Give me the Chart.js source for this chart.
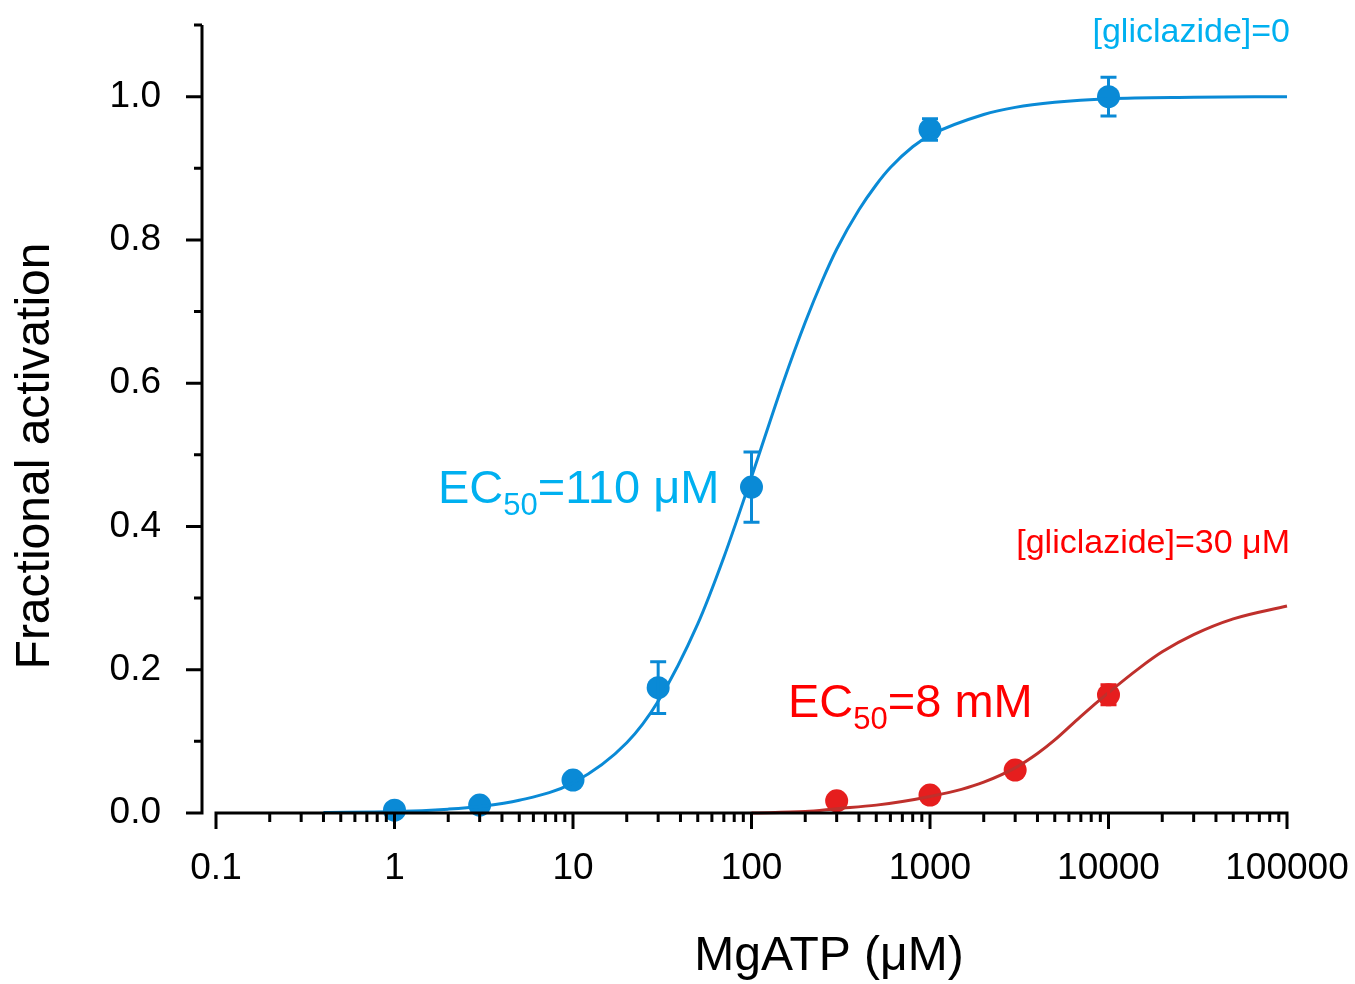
<!DOCTYPE html>
<html lang="en">

<head>
    <meta charset="UTF-8">
    <title>MgATP activation curves</title>
    <script src="https://cdn.jsdelivr.net/npm/chart.js@4.4.0/dist/chart.umd.min.js"></script>
    <style>
        body { margin: 0; background: #fff; }
        canvas { display: block; }
    </style>
</head>

<body>

    <canvas id="chart" width="1355" height="984"></canvas>

    <script>
        // MgATP concentrations (uM) and mean fractional activation +/- SEM
        const controlDose = [1, 3, 10, 30, 100, 1000, 10000];
        const controlResp = [0.004, 0.011, 0.046, 0.175, 0.455, 0.954, 1.0];
        const controlErr = [0, 0, 0, 0.036, 0.049, 0.015, 0.027];

        const glicDose = [300, 1000, 3000, 10000];
        const glicResp = [0.017, 0.025, 0.060, 0.165];
        const glicErr = [0, 0, 0, 0.014];

        // fitted curves
        const controlFitDose = [0.4, 1, 2, 3, 5, 10, 20, 30, 50, 70, 100, 150, 200, 250, 300, 400, 500, 600, 800, 1000, 2000, 3000, 5000, 10000, 30000, 100000];
        const controlFitResp = [0.0008, 0.002, 0.0054, 0.009, 0.0177, 0.042, 0.098, 0.156, 0.264, 0.357, 0.469, 0.60, 0.685, 0.744, 0.787, 0.842, 0.877, 0.901, 0.930, 0.946, 0.975, 0.985, 0.992, 0.997, 0.999, 1.0];

        const glicFitDose = [100, 200, 300, 500, 700, 1000, 1500, 2000, 3000, 4000, 5000, 7000, 10000, 15000, 20000, 30000, 50000, 100000];
        const glicFitResp = [0.0, 0.002, 0.006, 0.011, 0.016, 0.023, 0.033, 0.043, 0.063, 0.083, 0.102, 0.135, 0.168, 0.203, 0.225, 0.249, 0.271, 0.289];

        // axis ticks
        const xTicks = [0.1, 1, 10, 100, 1000, 10000, 100000];
        const xTickLabels = ['0.1', '1', '10', '100', '1000', '10000', '100000'];
        const yTicks = [0, 0.2, 0.4, 0.6, 0.8, 1.0];
        const yTickLabels = ['0.0', '0.2', '0.4', '0.6', '0.8', '1.0'];

        const BLUE = '#0a8ad6';
        const RED = '#e61e1e';
        const RED_LINE = '#bf302c';
        const FONT = "'Liberation Sans', Arial, sans-serif";

        // plot box edges (pixels)
        const AREA = { left: 216, top: 25, right: 1287, bottom: 813 };

        Chart.defaults.font.family = FONT;

        function toPoints(xs, ys) {
            return xs.map((x, i) => ({ x: x, y: ys[i] }));
        }

        // error bars for the scatter datasets
        const errorBars = {
            id: 'errorBars',
            afterDatasetsDraw(chart) {
                const ctx = chart.ctx;
                const xs = chart.scales.x;
                const ys = chart.scales.y;
                const sets = [
                    { dose: controlDose, resp: controlResp, err: controlErr, color: BLUE },
                    { dose: glicDose, resp: glicResp, err: glicErr, color: RED }
                ];
                ctx.save();
                ctx.lineWidth = 3;
                sets.forEach(s => {
                    ctx.strokeStyle = s.color;
                    s.dose.forEach((d, i) => {
                        if (!s.err[i]) return;
                        const px = xs.getPixelForValue(d);
                        const top = ys.getPixelForValue(s.resp[i] + s.err[i]);
                        const bot = ys.getPixelForValue(s.resp[i] - s.err[i]);
                        ctx.beginPath();
                        ctx.moveTo(px, top);
                        ctx.lineTo(px, bot);
                        ctx.moveTo(px - 8, top);
                        ctx.lineTo(px + 8, top);
                        ctx.moveTo(px - 8, bot);
                        ctx.lineTo(px + 8, bot);
                        ctx.stroke();
                    });
                });
                ctx.restore();
            }
        };

        // detached axes with outward tick marks
        const axes = {
            id: 'axes',
            afterDatasetsDraw(chart) {
                const ctx = chart.ctx;
                const xs = chart.scales.x;
                const ys = chart.scales.y;
                const y0 = ys.getPixelForValue(0);
                const yAxisX = xs.left - 14;
                ctx.save();
                ctx.strokeStyle = '#000';
                ctx.lineWidth = 3;
                ctx.beginPath();
                // y axis
                ctx.moveTo(yAxisX, y0 + 1.5);
                ctx.lineTo(yAxisX, ys.getPixelForValue(1.1));
                for (let k = 0; k <= 11; k++) {
                    const py = ys.getPixelForValue(k / 10);
                    ctx.moveTo(yAxisX, py);
                    ctx.lineTo(yAxisX - (k % 2 === 0 ? 16 : 8), py);
                }
                // x axis
                ctx.moveTo(xs.getPixelForValue(0.1) - 1.5, y0);
                ctx.lineTo(xs.getPixelForValue(100000) + 1.5, y0);
                for (let d = -1; d <= 5; d++) {
                    const base = Math.pow(10, d);
                    const px = xs.getPixelForValue(base);
                    ctx.moveTo(px, y0);
                    ctx.lineTo(px, y0 + 16);
                    if (d === 5) continue;
                    for (let m = 2; m <= 9; m++) {
                        const mx = xs.getPixelForValue(m * base);
                        ctx.moveTo(mx, y0);
                        ctx.lineTo(mx, y0 + 9);
                    }
                }
                ctx.stroke();
                ctx.restore();
            }
        };

        function drawEC50(ctx, x, y, value, color) {
            ctx.fillStyle = color;
            ctx.textAlign = 'left';
            ctx.textBaseline = 'alphabetic';
            ctx.font = '47px ' + FONT;
            ctx.fillText('EC', x, y);
            x += ctx.measureText('EC').width;
            ctx.font = '31px ' + FONT;
            ctx.fillText('50', x, y + 12);
            x += ctx.measureText('50').width;
            ctx.font = '47px ' + FONT;
            ctx.fillText('=' + value, x, y);
        }

        // titles and curve labels
        const labels = {
            id: 'labels',
            afterDraw(chart) {
                const ctx = chart.ctx;
                ctx.save();
                ctx.fillStyle = '#000';
                ctx.font = '48px ' + FONT;
                ctx.textAlign = 'center';
                ctx.textBaseline = 'middle';
                ctx.fillText('MgATP (\u03bcM)', 829, 957);
                ctx.translate(36, 456);
                ctx.rotate(-Math.PI / 2);
                ctx.fillText('Fractional activation', 0, 0);
                ctx.restore();

                ctx.save();
                ctx.font = '34px ' + FONT;
                ctx.textAlign = 'right';
                ctx.textBaseline = 'alphabetic';
                ctx.fillStyle = '#00b0f0';
                ctx.fillText('[gliclazide]=0', 1290, 42);
                ctx.fillStyle = '#ff0000';
                ctx.fillText('[gliclazide]=30 \u03bcM', 1290, 553);
                drawEC50(ctx, 438, 503, '110 \u03bcM', '#00b0f0');
                drawEC50(ctx, 788, 717, '8 mM', '#ff0000');
                ctx.restore();
            }
        };

        const tickFont = { size: 37, family: FONT };

        new Chart(document.getElementById('chart').getContext('2d'), {
            type: 'scatter',
            data: {
                datasets: [
                    {
                        type: 'line',
                        data: toPoints(controlFitDose, controlFitResp),
                        borderColor: BLUE,
                        borderWidth: 3,
                        pointRadius: 0,
                        cubicInterpolationMode: 'monotone',
                        clip: false
                    },
                    {
                        type: 'line',
                        data: toPoints(glicFitDose, glicFitResp),
                        borderColor: RED_LINE,
                        borderWidth: 3,
                        pointRadius: 0,
                        cubicInterpolationMode: 'monotone',
                        clip: false
                    },
                    {
                        data: toPoints(controlDose, controlResp),
                        backgroundColor: BLUE,
                        borderWidth: 0,
                        pointRadius: 11.5,
                        clip: false
                    },
                    {
                        data: toPoints(glicDose, glicResp),
                        backgroundColor: RED,
                        borderWidth: 0,
                        pointRadius: 11.5,
                        clip: false
                    }
                ]
            },
            options: {
                responsive: false,
                animation: false,
                layout: {
                    autoPadding: false,
                    padding: { top: AREA.top, right: 1355 - AREA.right, left: 0, bottom: 0 }
                },
                plugins: {
                    legend: { display: false },
                    tooltip: { enabled: false }
                },
                scales: {
                    x: {
                        type: 'logarithmic',
                        min: 0.1,
                        max: 100000,
                        // tick marks are drawn by the axes plugin; tickLength only spaces the labels
                        grid: { display: false, drawTicks: true, tickLength: 34 },
                        border: { display: false },
                        afterBuildTicks: s => { s.ticks = xTicks.map(v => ({ value: v })); },
                        afterFit: s => { s.height = 984 - AREA.bottom; },
                        ticks: {
                            color: '#000',
                            font: tickFont,
                            padding: 0,
                            maxRotation: 0,
                            autoSkip: false,
                            callback: (v, i) => xTickLabels[i]
                        }
                    },
                    y: {
                        min: 0,
                        max: 1.1,
                        grid: { display: false, drawTicks: true, tickLength: 55 },
                        border: { display: false },
                        afterBuildTicks: s => { s.ticks = yTicks.map(v => ({ value: v })); },
                        afterFit: s => { s.width = AREA.left; },
                        ticks: {
                            color: '#000',
                            font: tickFont,
                            padding: 0,
                            callback: (v, i) => yTickLabels[i]
                        }
                    }
                }
            },
            plugins: [errorBars, axes, labels]
        });
    </script>
</body>

</html>
